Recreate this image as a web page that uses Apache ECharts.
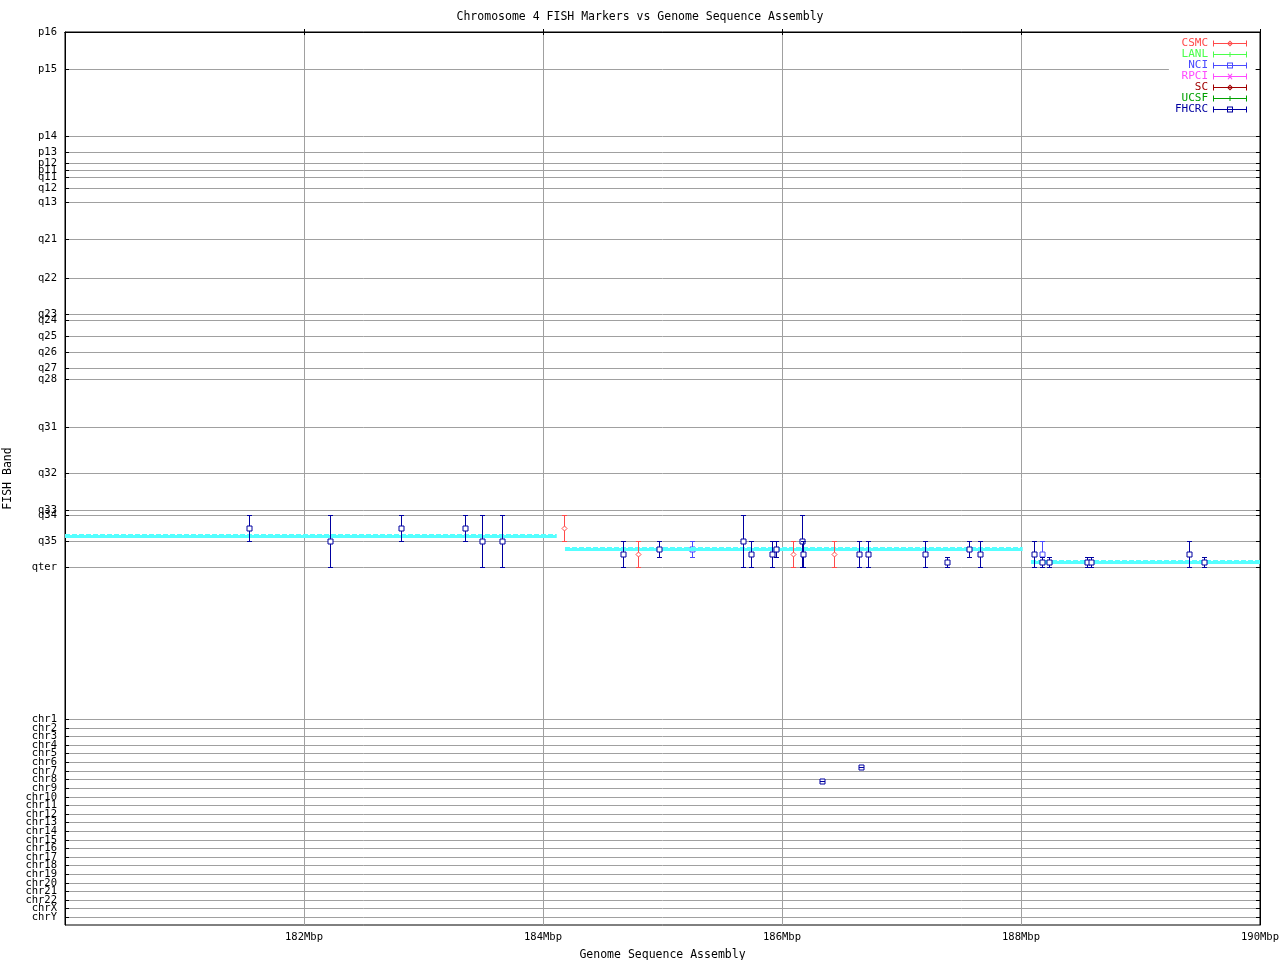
<!DOCTYPE html>
<html><head><meta charset="utf-8">
<script src="https://cdn.jsdelivr.net/npm/echarts@6/dist/echarts.min.js"></script>
<style>html,body{margin:0;padding:0;background:#fff}#chart{width:1280px;height:960px}</style>
</head><body><div id="chart"></div>
<script>
// ---- data ----
const chartTitle = 'Chromosome 4 FISH Markers vs Genome Sequence Assembly';
const xTicks = [180, 182, 184, 186, 188, 190];           // Mbp
const bandNames = ['p16','p15','p14','p13','p12','p11','q11','q12','q13','q21','q22','q23','q24','q25','q26','q27','q28','q31','q32','q33','q34','q35','qter',
  'chr1','chr2','chr3','chr4','chr5','chr6','chr7','chr8','chr9','chr10','chr11','chr12','chr13','chr14','chr15','chr16','chr17','chr18','chr19','chr20','chr21','chr22','chrX','chrY'];
const bandPositions = [0,37.5,104.3,120,131,138,145.5,156,170.5,207.5,246.5,282,288.7,304.5,320.5,336.3,347.5,395.5,441.3,478,483.3,509.3,535.3,
  687.3,695.9,704.5,713.1,721.7,730.4,739.0,747.6,756.2,764.8,773.4,782.0,790.6,799.2,807.8,816.5,825.1,833.7,842.3,850.9,859.5,868.1,876.7,885.3];
const bandMax = 893;

// [Mbp, band position low, band position high]
const csmcData = [[184.176,483.3,509.3],[184.798,509.3,535.3],[186.089,509.3,535.3],[186.435,509.3,535.3]];
const lanlData = [];
const nciData = [[185.249,509.3,525.3],[188.178,509.3,535.3]];
const rpciData = [];
const scData = [];
const ucsfData = [];
const fhcrcData = [
  [181.542,483.3,509.3],[182.220,483.3,535.3],[182.814,483.3,509.3],[183.350,483.3,509.3],
  [183.492,483.3,535.3],[183.659,483.3,535.3],[184.672,509.3,535.3],[184.973,509.3,525.3],
  [185.676,483.3,535.3],[185.741,509.3,535.3],[185.919,509.3,535.3],[185.953,509.3,525.3],
  [186.170,483.3,535.3],[186.178,509.3,535.3],[186.647,509.3,535.3],[186.722,509.3,535.3],
  [187.199,509.3,535.3],[187.381,525.3,535.3],[187.567,509.3,525.3],[187.659,509.3,535.3],
  [188.111,509.3,535.3],[188.178,525.3,535.3],[188.237,525.3,535.3],[188.549,525.3,535.3],
  [188.586,525.3,535.3],[189.408,509.3,535.3],[189.534,525.3,535.3],
  [186.337,749.3,749.3],[186.664,735.3,735.3]
];
// assembly segments: [start Mbp, end Mbp, band position]
const assemblySegments = [[180,184.115,503.5],[184.184,188.014,517.3],[188.084,190,530.4]];

// ---- styling ----
const FONT = '"DejaVu Sans Mono", "Liberation Mono", monospace';
const vendors = [
  {name:'CSMC', color:'#ff4a4a', shape:'diamond', data:csmcData, z:3},
  {name:'LANL', color:'#4aff4a', shape:'tick', data:lanlData, z:3},
  {name:'NCI', color:'#4a4aff', shape:'square', data:nciData, z:1},
  {name:'RPCI', color:'#ff4aff', shape:'cross', data:rpciData, z:3},
  {name:'SC', color:'#a00000', shape:'diamond', data:scData, z:3},
  {name:'UCSF', color:'#00a000', shape:'tick', data:ucsfData, z:3},
  {name:'FHCRC', color:'#0000a0', shape:'square', data:fhcrcData, z:3}
];
const baseIcon = 'M0,2.5H34V3.5H0Z M0,0H1V6H0Z M33,0H34V6H33Z';
const iconMarks = {
  square: ' M14,0H20V6H14Z M15,1V5H19V1Z',
  diamond: ' M17,0L20,3L17,6L14,3Z M17,1.4L15.6,3L17,4.6L18.4,3Z',
  cross: ' M14.5,0.5L15.5,0L19.5,5.5L18.5,6Z M18.5,0L19.5,0.5L15.5,6L14.5,5.5Z',
  tick: ' M16.5,0.5H17.5V5.5H16.5Z'
};

function bandLabel(v) {
  for (let i = 0; i < bandPositions.length; i++) if (Math.abs(bandPositions[i] - v) < 0.01) return bandNames[i];
  return '';
}

function makeRender(shape, color) {
  return function (params, api) {
    const x = api.value(0), lo = api.value(1), hi = api.value(2);
    const a = api.coord([x, lo]), b = api.coord([x, hi]), m = api.coord([x, (lo + hi) / 2]);
    const cx = Math.round(a[0]) + 0.5;
    const y1 = Math.round(a[1]) + 0.5, y2 = Math.round(b[1]) + 0.5, ym = Math.round(m[1]) + 0.5;
    const st = {stroke: color, lineWidth: 1, fill: null};
    const ch = [
      {type:'line', shape:{x1:cx, y1:y1, x2:cx, y2:y2}, style:st}
    ];
    if (shape === 'square') ch.push({type:'rect', shape:{x:cx-2.5, y:ym-2.5, width:5, height:5}, style:{stroke:color, fill:'#fff', lineWidth:1}});
    else if (shape === 'diamond') ch.push({type:'polygon', shape:{points:[[cx,ym-2.5],[cx+2.5,ym],[cx,ym+2.5],[cx-2.5,ym]]}, style:{stroke:color, fill:'#fff', lineWidth:1}});
    else if (shape === 'cross') {
      ch.push({type:'line', shape:{x1:cx-2, y1:ym-2, x2:cx+2, y2:ym+2}, style:st});
      ch.push({type:'line', shape:{x1:cx-2, y1:ym+2, x2:cx+2, y2:ym-2}, style:st});
    }
    ch.push({type:'line', shape:{x1:cx-2.5, y1:y1, x2:cx+2.5, y2:y1}, style:st});
    ch.push({type:'line', shape:{x1:cx-2.5, y1:y2, x2:cx+2.5, y2:y2}, style:st});
    return {type:'group', children:ch};
  };
}

const series = vendors.map(v => ({
  type:'custom', name:v.name, data:v.data, z:v.z,
  encode:{x:0, y:[1,2]},
  itemStyle:{color:v.color},
  renderItem: makeRender(v.shape, v.color),
  silent:true, animation:false
}));

series.push({
  type:'custom', name:'assembly', data:assemblySegments, z:2, silent:true, animation:false,
  encode:{x:[0,1], y:2},
  renderItem: function (params, api) {
    const a = api.coord([api.value(0), api.value(2)]), b = api.coord([api.value(1), api.value(2)]);
    const y = Math.round(a[1]);
    return {type:'group', children:[
      {type:'rect', shape:{x:a[0], y:y-1, width:b[0]-a[0], height:3}, style:{fill:'#55ffff'}},
      {type:'line', shape:{x1:a[0], y1:y-1.5, x2:b[0], y2:y-1.5}, style:{stroke:'#55ffff', lineWidth:1, lineDash:[5,2]}}
    ]};
  }
});

const chart = echarts.init(document.getElementById('chart'), null, {renderer:'canvas'});
chart.setOption({
  backgroundColor:'#fff',
  animation:false,
  title:{text:chartTitle, left:'center', top:6, textStyle:{fontFamily:FONT, fontSize:11.5, fontWeight:'normal', color:'#000'}},
  legend:{
    orient:'vertical', right:25, top:36, align:'right',
    itemWidth:34, itemHeight:6, itemGap:0,
    padding:[2,8,2,6], backgroundColor:'#fff',
    selectedMode:false,
    textStyle:{fontFamily:FONT, fontSize:11, lineHeight:11},
    data: vendors.map(v => ({name:v.name, icon:'path://' + baseIcon + iconMarks[v.shape], itemStyle:{color:v.color}, textStyle:{color:v.color}}))
  },
  grid:{left:65, right:20, top:32, bottom:35, outerBoundsMode:'none', containLabel:false, show:true, borderColor:'#000', borderWidth:1, backgroundColor:'transparent'},
  xAxis:[{
    type:'value', min:xTicks[0], max:xTicks[xTicks.length-1], interval:2,
    name:'Genome Sequence Assembly', nameLocation:'middle', nameGap:24,
    nameTextStyle:{fontFamily:FONT, fontSize:11.5, color:'#000'},
    axisLine:{lineStyle:{color:'#000'}},
    axisTick:{inside:true, length:3, lineStyle:{color:'#000'}},
    axisLabel:{showMinLabel:false, showMaxLabel:true, margin:7, fontFamily:FONT, fontSize:10.5, color:'#000', formatter:v => v + 'Mbp'},
    splitLine:{show:true, lineStyle:{color:'#a0a0a0', width:1}}
  },{
    type:'value', position:'top', min:xTicks[0], max:xTicks[xTicks.length-1], interval:2,
    axisLine:{lineStyle:{color:'#000'}},
    axisTick:{inside:true, length:3, lineStyle:{color:'#000'}},
    axisLabel:{show:false}, splitLine:{show:false}
  }],
  yAxis:[{
    type:'value', min:0, max:bandMax, inverse:true,
    name:'FISH Band', nameLocation:'middle', nameGap:41,
    nameTextStyle:{fontFamily:FONT, fontSize:11.5, color:'#000'},
    axisLine:{show:true, lineStyle:{color:'#000'}},
    axisTick:{show:true, inside:true, length:4, customValues:bandPositions, lineStyle:{color:'#000'}},
    axisLabel:{customValues:bandPositions.concat([bandMax]), showMinLabel:true, margin:8, fontFamily:FONT, fontSize:10.5, color:'#000', formatter:bandLabel, hideOverlap:false},
    splitLine:{show:true, lineStyle:{color:'#a0a0a0', width:1}}
  },{
    type:'value', position:'right', min:0, max:bandMax, inverse:true,
    axisLine:{show:true, lineStyle:{color:'#000'}},
    axisTick:{show:true, inside:true, length:4, customValues:bandPositions, lineStyle:{color:'#000'}},
    axisLabel:{show:false}, splitLine:{show:false}
  }],
  series: series
});
</script>
</body></html>
